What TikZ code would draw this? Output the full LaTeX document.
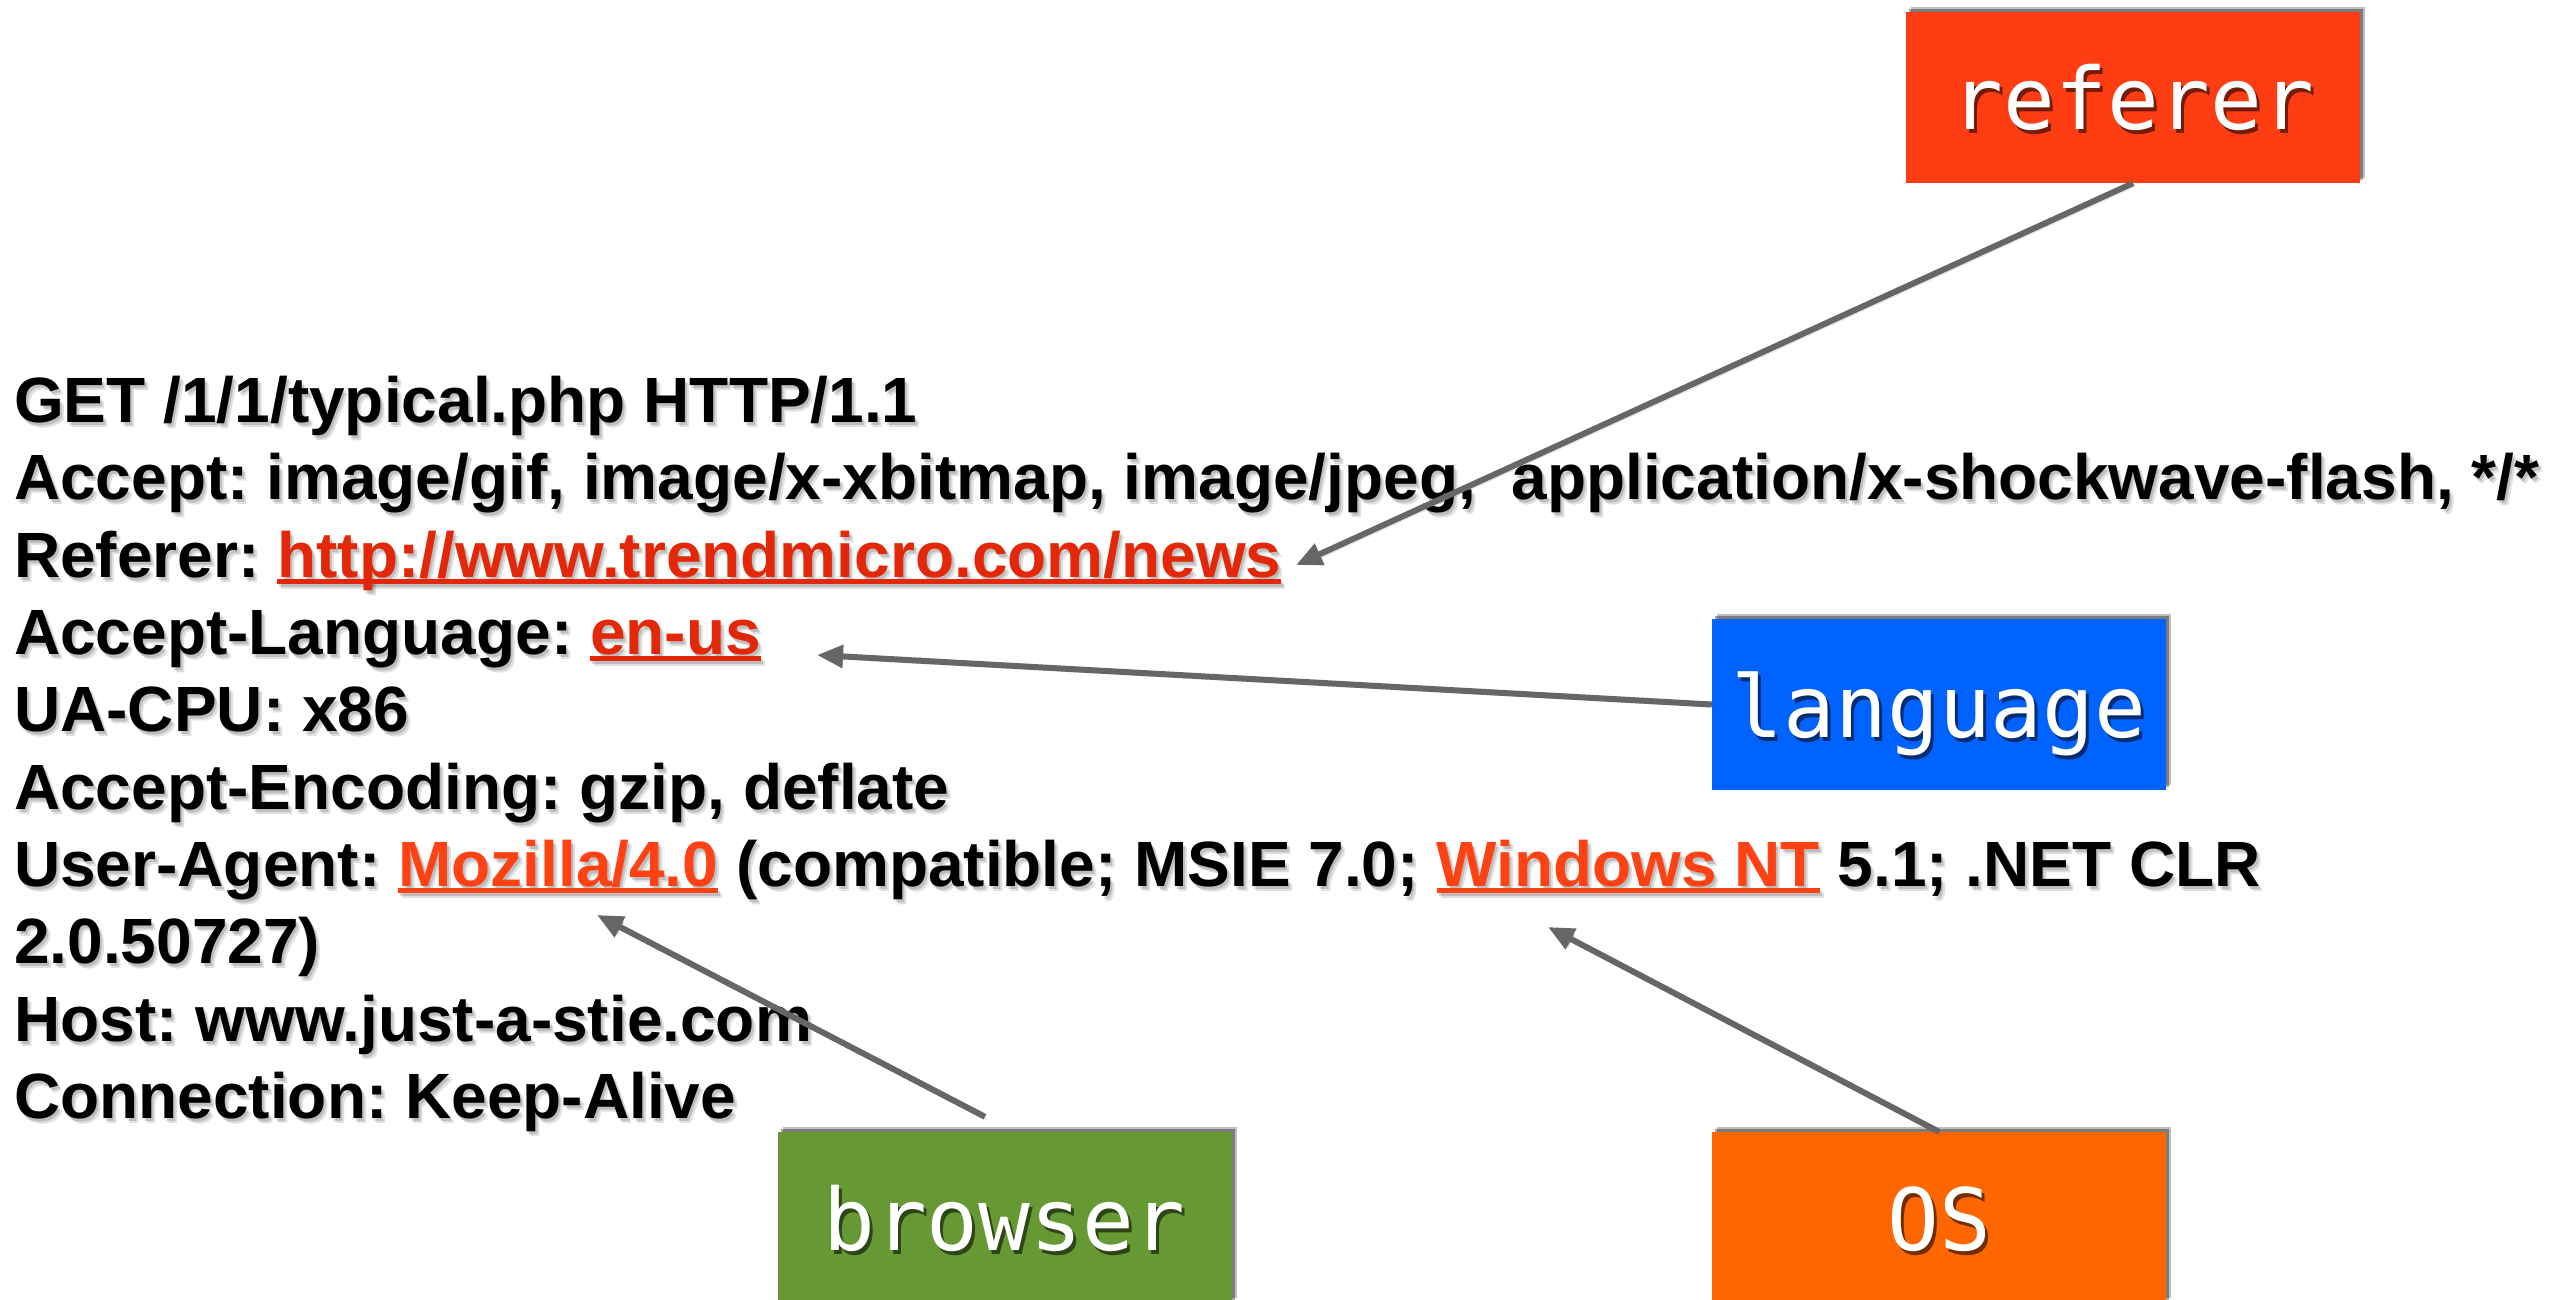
\documentclass[tikz,border=0pt]{standalone}
\usepackage{fontspec}
\setmainfont{Liberation Sans}
\newfontfamily\monof{DejaVu Sans Mono}
\usetikzlibrary{shadows,arrows.meta}
\frenchspacing
\definecolor{refC}{RGB}{255,61,18}
\definecolor{langC}{RGB}{0,98,255}
\definecolor{browC}{RGB}{102,153,51}
\definecolor{osC}{RGB}{255,102,0}
\definecolor{arrC}{RGB}{102,102,102}
\definecolor{lkA}{RGB}{226,40,8}
\definecolor{lkB}{RGB}{255,66,20}
\newcommand\lnk[2]{{\color{#1}\setbox0=\hbox{#2}\rlap{\rule[-7pt]{\wd0}{5pt}}\box0}}
\newcommand\lbltxt[2]{\rlap{\kern3pt\raisebox{-4pt}{\textcolor{#2}{#1}}}#1}
\newcommand\httplines[1]{%
  \node[tl] (a1#1) at (14,422) {GET /1/1/typical.php HTTP/1.1};
  \node[tl] (a2#1) at (14,499) {Accept: image/gif, image/x-xbitmap, image/jpeg,\ \ application/x-shockwave-flash, */*};
  \node[tl] (a3#1) at (14,577) {Referer: \lnk{lkA}{http://www.trendmicro.com/news}};
  \node[tl] (a4#1) at (14,654) {Accept-Language: \lnk{lkA}{en-us}};
  \node[tl] (a5#1) at (14,731) {UA-CPU: x86};
  \node[tl] (a6#1) at (14,809) {Accept-Encoding: gzip, deflate};
  \node[tl] (a7#1) at (14,886) {User-Agent: \lnk{lkB}{Mozilla/4.0} (compatible; MSIE 7.0; \lnk{lkB}{Windows NT} 5.1; .NET CLR};
  \node[tl] (a8#1) at (14,963) {2.0.50727)};
  \node[tl] (a9#1) at (14,1041) {Host: www.just-a-stie.com};
  \node[tl] (a10#1) at (14,1118) {Connection: Keep-Alive};
}
\tikzset{
  tl/.style={anchor=base west, inner sep=0pt, font=\fontsize{64}{77}\selectfont\bfseries\frenchspacing},
  tag/.style={rectangle, inner sep=0pt, minimum width=454pt, minimum height=171pt,
    text height=65pt, text depth=0pt, text=white, font=\fontsize{86}{100}\selectfont\monof,
    drop shadow={shadow xshift=5pt, shadow yshift=5pt, opacity=0.25, fill=black},
    drop shadow={shadow xshift=3pt, shadow yshift=3pt, opacity=0.35, fill=black}},
  arr/.style={draw=arrC, line width=6pt, -{Triangle[length=26pt,width=22pt]},
    preaction={draw=black, opacity=0.18, transform canvas={xshift=3pt,yshift=-3pt}}}
}
\begin{document}
\begin{tikzpicture}[x=1pt,y=-1pt]
\useasboundingbox[fill=white] (0,0) rectangle (2574,1300);
% text shadow layers
\begin{scope}[xshift=2pt,yshift=-3pt,opacity=0.15]
  \colorlet{lkA}{black}\colorlet{lkB}{black}\httplines{s}
\end{scope}
\begin{scope}[xshift=4pt,yshift=-5pt,opacity=0.12]
  \colorlet{lkA}{black}\colorlet{lkB}{black}\httplines{t}
\end{scope}
\httplines{}
% tags
\node[tag, fill=refC] (referer) at (2133,97.5) {\lbltxt{referer}{refC!45!black}};
\node[tag, fill=langC] (language) at (1939,704.5) {\lbltxt{language}{langC!45!black}};
\node[tag, fill=browC] (browser) at (1004.5,1217.5) {\lbltxt{browser}{browC!45!black}};
\node[tag, fill=osC] (os) at (1939,1217.5) {\lbltxt{OS}{osC!45!black}};
% arrow targets
\coordinate (tRef) at (1296,565);
\coordinate (tLang) at (817,655);
\coordinate (tMoz) at (597,915);
\coordinate (tWin) at (1548,927);
\draw[arr] (referer.south) -- (tRef);
\draw[arr] (language.west) -- (tLang);
\draw[arr] ([xshift=-19.5pt,yshift=15pt]browser.north) -- (tMoz);
\draw[arr] (os.north) -- (tWin);
\end{tikzpicture}
\end{document}
